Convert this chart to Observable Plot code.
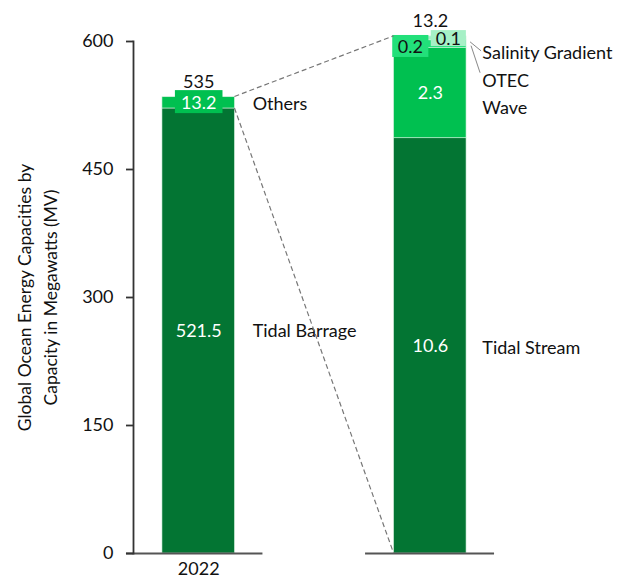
<!DOCTYPE html>
<html><head><meta charset="utf-8">
<script src="https://cdn.jsdelivr.net/npm/d3@7"></script>
<script src="https://cdn.jsdelivr.net/npm/@observablehq/plot@0.6"></script>
<style>
body{margin:0;background:#fff;}
#chart svg{display:block;font-family:Lato,"Open Sans",sans-serif;}
</style>
</head><body><div id="chart"></div>
<script>
// ---- data ----
const year = "2022";
const breakdownKey = "Others breakdown";
const mainCategories = ["Tidal Barrage", "Others"];
const mainValues = [521.5, 13.2];
const mainTotal = 535;
const otherCategories = ["Tidal Stream", "Wave", "OTEC", "Salinity Gradient"];
const otherValues = [10.6, 2.3, 0.2, 0.1];
const otherTotal = 13.2;
const yTicks = [0, 150, 300, 450, 600];
const yLabel = "Global Ocean Energy Capacities by\nCapacity in Megawatts (MV)";

// ---- styling ----
const colors = {
  "Tidal Barrage": "#037533", "Others": "#00c050",
  "Tidal Stream": "#037533", "Wave": "#00c050",
  "OTEC": "#22e07a", "Salinity Gradient": "#a6f0c6"
};
// the exploded bar spans this many axis units
const explodedSpan = 606;
const k = explodedSpan / otherTotal;

const rows = [
  ...mainCategories.map((c, i) => ({bar: year, cat: c, value: mainValues[i], shown: mainValues[i]})),
  ...otherCategories.map((c, i) => ({bar: breakdownKey, cat: c, value: otherValues[i] * k, shown: otherValues[i]}))
];
const insideWhite = new Set(["Tidal Barrage", "Tidal Stream", "Wave"]);
const labelOffsets = {
  "Tidal Barrage": {dx: 54, dy: 0},
  "Others": {dx: 54, dy: 1},
  "Tidal Stream": {dx: 52, dy: 2},
  "Wave": {dx: 52, dy: 15},
  "OTEC": {dx: 52, dy: 37},
  "Salinity Gradient": {dx: 52, dy: 15}
};
const totals = [
  {bar: year, total: mainTotal, label: "535"},
  {bar: breakdownKey, total: otherTotal * k, label: "13.2"}
];

const fs = 18;
const stackOpts = (extra) => Plot.stackY({x: "bar", y: "value", ...extra});

const marks = [
  Plot.barY(rows, stackOpts({fill: d => colors[d.cat], stroke: "#d8f2e0", strokeWidth: 0.6})),
  // baselines under each bar
  Plot.tickY([0], {x: () => year, stroke: "#555", strokeWidth: 2, insetLeft: -36, insetRight: -28}),
  Plot.tickY([0], {x: () => breakdownKey, stroke: "#555", strokeWidth: 2, insetLeft: -28.5, insetRight: -28}),
  Plot.frame({anchor: "left", stroke: "#333", strokeWidth: 1.8}),
  Plot.axisY({ticks: yTicks, tickSize: 7, tickPadding: 13, fontSize: fs, color: "#111", stroke: "#333", strokeWidth: 1.8, label: null}),
  Plot.axisX({tickSize: 0, tickPadding: 9, fontSize: fs, color: "#111", label: null,
    tickFormat: d => d === year ? d : ""}),
  // white values inside bars
  Plot.text(rows, stackOpts({text: d => insideWhite.has(d.cat) ? String(d.shown) : null,
    fill: "white", fontSize: fs})),
  // boxed value labels
  Plot.text(rows.filter(d => d.cat === "Others"), {x: "bar", y: () => mainValues[0] + mainValues[1] / 2,
    text: d => String(d.shown), fill: "white", fontSize: fs}),
  Plot.text(rows, stackOpts({text: d => d.cat === "OTEC" ? String(d.shown) : null,
    fill: "#111", fontSize: fs, dx: -20, dy: 3})),
  Plot.text(rows, stackOpts({text: d => d.cat === "Salinity Gradient" ? String(d.shown) : null,
    fill: "#111", fontSize: fs, dx: 18, dy: 1})),
  // category labels right of bars
  ...Object.keys(labelOffsets).map(c => Plot.text(rows, stackOpts({
    text: d => d.cat === c ? c : null, textAnchor: "start", fill: "#111", fontSize: fs,
    dx: labelOffsets[c].dx, dy: labelOffsets[c].dy}))),
  // totals
  Plot.text(totals, {x: "bar", y: "total", text: "label", dy: -15, fill: "#111", fontSize: fs}),
  // y axis title
  Plot.text([yLabel], {frameAnchor: "left", text: d => d, rotate: -90, dx: -98, fontSize: 17.5,
    textAnchor: "middle", lineAnchor: "middle", lineHeight: 1.48, fill: "#111"})
];

const chart = Plot.plot({
  width: 638, height: 581,
  marginTop: 41, marginBottom: 28, marginLeft: 133, marginRight: 143,
  x: {domain: [year, breakdownKey], paddingInner: 0.687, paddingOuter: 0.125, align: 0.5, round: false, axis: null},
  y: {domain: [0, 600], axis: null},
  style: {fontFamily: "Lato, 'Open Sans', sans-serif", background: "white", overflow: "visible"},
  marks
});
document.getElementById("chart").appendChild(chart);

// background boxes for boxed value labels: [text, group fill or null, box fill, padX, padY]
const boxes = [
  ["13.2", "white", "#00c050", 6, 0.5],
  ["0.2", null, "#22e07a", 5.5, 0],
  ["0.1", null, "#a6f0c6", 5, -3]
];
chart.querySelectorAll("text").forEach(t => {
  const gf = t.closest("g") && t.closest("g").getAttribute("fill");
  const spec = boxes.find(([s, f]) => t.textContent === s && (f === null || gf === f));
  if (!spec) return;
  const [, , fill, px, py] = spec;
  const b = t.getBBox();
  const r = document.createElementNS("http://www.w3.org/2000/svg", "rect");
  r.setAttribute("x", b.x - px); r.setAttribute("y", b.y - py);
  r.setAttribute("width", b.width + 2 * px); r.setAttribute("height", b.height + 2 * py);
  r.setAttribute("fill", fill);
  const tr = t.getAttribute("transform"); if (tr) r.setAttribute("transform", tr);
  t.parentNode.insertBefore(r, t);
});

// connector and leader lines drawn through the chart's scales
const xs = chart.scale("x"), ys = chart.scale("y");
const bw = xs.bandwidth;
const xL = xs.apply(year), xR = xs.apply(breakdownKey);
const svg = d3.select(chart);
const g = svg.append("g").attr("fill", "none");
const cum = d3.cumsum(otherValues);
const conn = [
  [xL + bw, ys.apply(mainTotal), xR, ys.apply(otherTotal * k)],
  [xL + bw, ys.apply(mainValues[0]), xR, ys.apply(0)]
];
conn.forEach(([x1, y1, x2, y2]) => g.append("line").attr("x1", x1).attr("y1", y1).attr("x2", x2).attr("y2", y2)
  .attr("stroke", "#777").attr("stroke-width", 1.2).attr("stroke-dasharray", "5,3"));
const salY = ys.apply((cum[2] + otherValues[3] / 2) * k);
const otecY = ys.apply((cum[1] + otherValues[2] / 2) * k);
[[xR + bw + 4, salY + 4, xR + bw + 15, salY + labelOffsets["Salinity Gradient"].dy - 2],
 [xR + bw + 5, otecY + 2, xR + bw + 14, otecY + labelOffsets["OTEC"].dy - 8]]
  .forEach(([x1, y1, x2, y2]) => g.append("line").attr("x1", x1).attr("y1", y1).attr("x2", x2).attr("y2", y2)
    .attr("stroke", "#888").attr("stroke-width", 1));
</script>
</body></html>
